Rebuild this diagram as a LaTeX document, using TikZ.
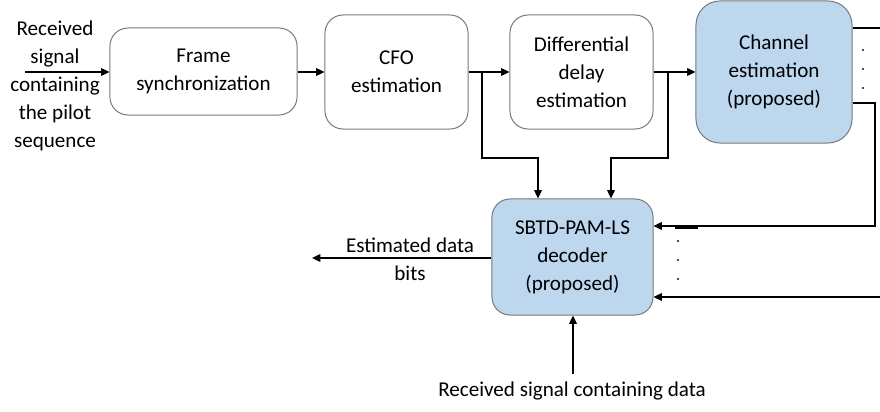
\documentclass[tikz,border=0pt]{standalone}
\usepackage{fontspec}
\setmainfont{Carlito}
\usetikzlibrary{positioning, arrows.meta, calc}
\definecolor{boxgray}{RGB}{120, 120, 120}
\definecolor{propblue}{RGB}{189, 215, 238}

\tikzset{
  blk/.style={draw=boxgray, line width=0.7pt, rounded corners=0.45cm, align=center, inner sep=2pt},
  propblk/.style={blk, fill=propblue},
  sig/.style={-{Triangle[length=6pt, width=5.5pt]}, line width=1pt},
  wire/.style={line width=1pt},
  dotmark/.style={fill=black!70, inner sep=0pt, minimum size=1.2pt},
}

\begin{document}
\begin{tikzpicture}[x=0.025cm, y=-0.025cm, font=\fontsize{15}{20}\selectfont]
  \useasboundingbox (0,0) rectangle (880,412);

  % top chain
  \node[blk, minimum width=4.675cm, minimum height=2.175cm] (sync) at (203.5,71.5){Frame\\synchronization};
  \node[blk, minimum width=3.575cm, minimum height=2.85cm] (cfo) at (396.5,72){CFO\\estimation};
  \node[blk, minimum width=3.575cm, minimum height=2.85cm] (delay) at (581.5,72){Differential\\delay\\estimation};
  \node[propblk, rounded corners=0.6cm, minimum width=3.9cm, minimum height=3.55cm] (chest) at (774,72){Channel\\estimation\\(proposed)};
  \node[propblk, minimum width=4.025cm, minimum height=2.9cm] (dec) at (572.5,257){SBTD-PAM-LS\\decoder\\(proposed)};

  % outside texts
  \node[align=center] (rxpilot) at (55,86){Received\\signal\\containing\\the pilot\\sequence};
  \node[align=center] (bits) at (410,259){Estimated data\\bits};
  \node (rxdata) at (572,391){Received signal containing data};

  % free ends
  \coordinate (pin) at (25,72);
  \coordinate (bout) at (312,258);
  \coordinate (din) at (573,374);
  \coordinate (j1) at (482,72);
  \coordinate (j2) at (668,72);
  \coordinate (top) at (880,28);
  \coordinate (rbot) at (880,297);

  % connectors
  \draw[sig] (pin) -- (sync.west |- pin);
  \draw[sig] (sync.east |- pin) -- (cfo.west |- pin);
  \draw[sig] (cfo.east |- pin) -- (delay.west |- pin);
  \draw[sig] (delay.east |- pin) -- (chest.west |- pin);
  \draw[sig] (j1) -- (482,158) -- (538,158) -- (538,0 |- dec.north);
  \draw[sig] (j2) -- (668,158) -- (611,158) -- (611,0 |- dec.north);
  \draw[wire] (chest.east |- top) -- (top);
  \draw[sig] (chest.east |- 0,103) -- (875,103) -- (875,226) -- (dec.east |- 0,226);
  \draw[line width=2pt] (675,227.5) -- (698,227.5);
  \draw[sig] (rbot) -- (dec.east |- rbot);
  \draw[sig] (dec.west |- bout) -- (bout);
  \draw[sig] (din) -- (573,0 |- dec.south);

  % dots
  \foreach \yy in {50,69,88} \node[dotmark] (cd\yy) at (863,\yy){};
  \foreach \yy in {241,260,279} \node[dotmark] (dd\yy) at (678,\yy){};
\end{tikzpicture}
\end{document}
